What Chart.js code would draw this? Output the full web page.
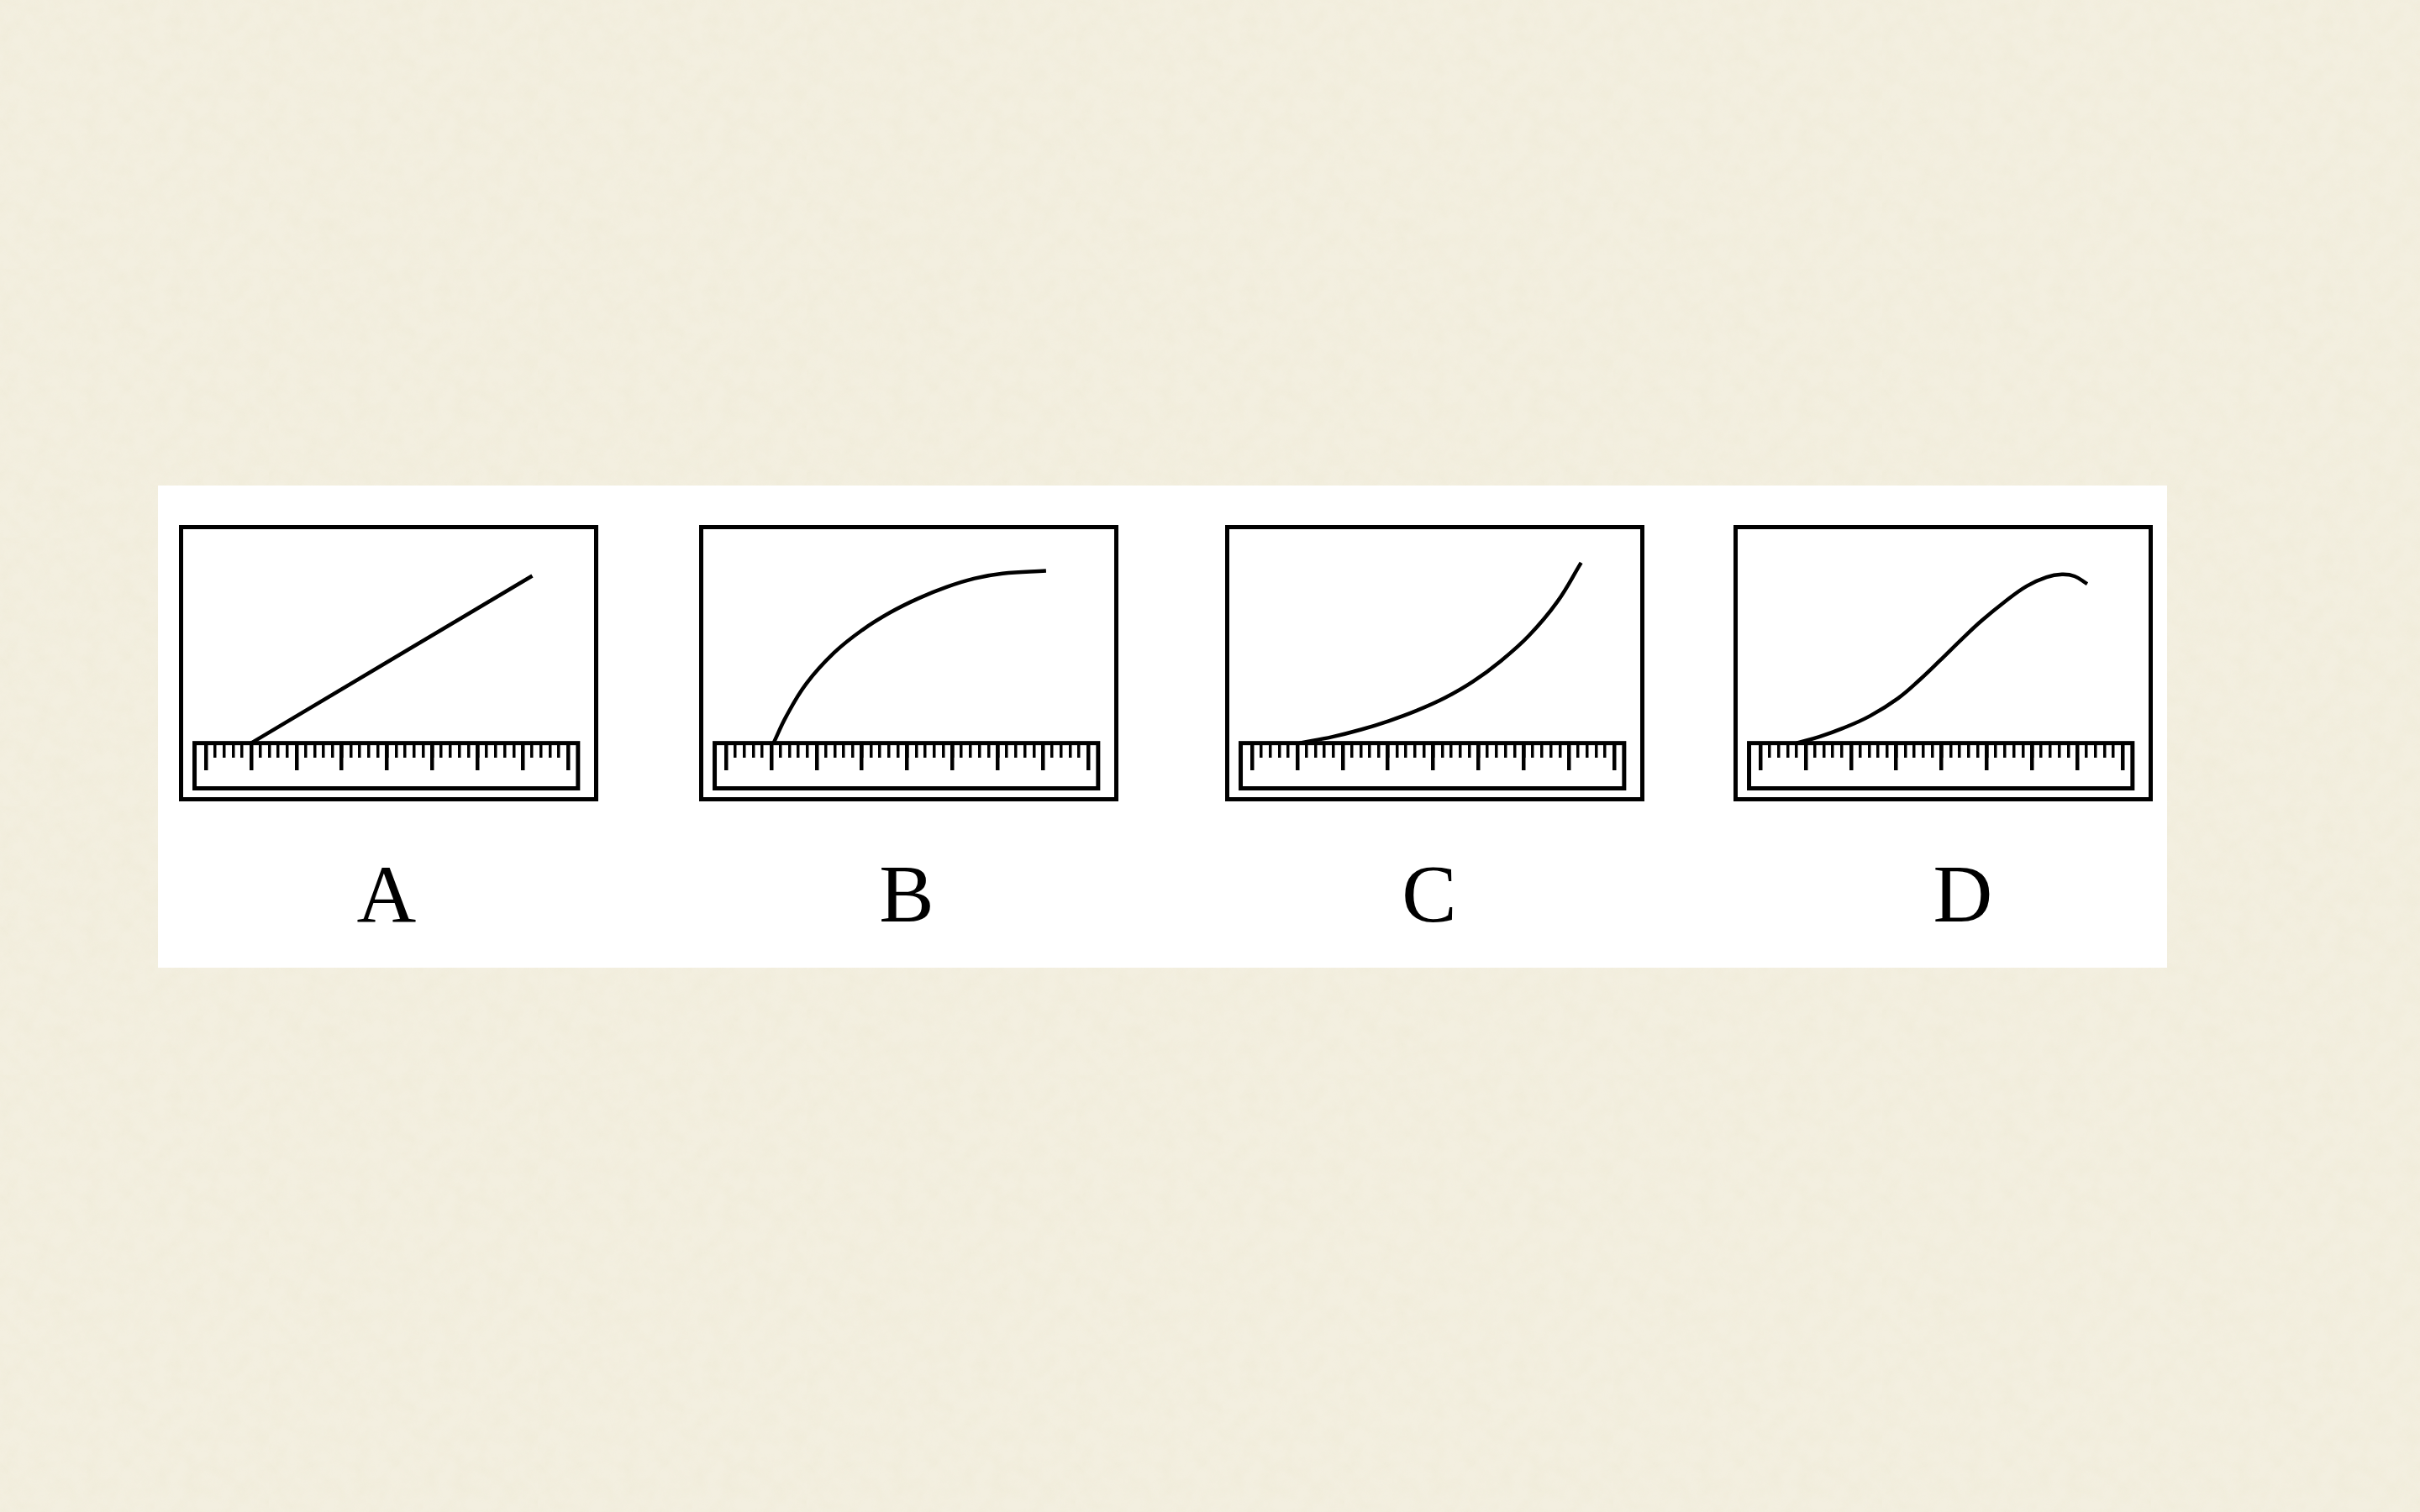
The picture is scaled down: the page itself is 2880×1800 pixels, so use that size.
<!DOCTYPE html>
<html>
<head>
<meta charset="utf-8">
<title>Ruler traces A-D</title>
<script src="https://cdn.jsdelivr.net/npm/chart.js@4.4.1/dist/chart.umd.min.js"></script>
<style>
  html, body { margin: 0; padding: 0; }
  body {
    width: 2880px;
    height: 1800px;
    position: relative;
    overflow: hidden;
    background-color: #f3efe0;
    background-image: url("data:image/svg+xml,%3Csvg xmlns='http://www.w3.org/2000/svg' width='320' height='320'%3E%3Cfilter id='n'%3E%3CfeTurbulence type='fractalNoise' baseFrequency='0.05' numOctaves='4' seed='7'/%3E%3CfeColorMatrix values='0 0 0 0 0.82 0 0 0 0 0.78 0 0 0 0 0.6 0.45 0 0 0 -0.14'/%3E%3C/filter%3E%3Crect width='320' height='320' filter='url(%23n)'/%3E%3C/svg%3E");
  }
  .band {
    position: absolute;
    left: 188px;
    top: 578px;
    width: 2391px;
    height: 574px;
    background: #fff;
  }
  .panel {
    position: absolute;
    top: 625px;
    width: 499px;
    height: 329px;
    box-sizing: border-box;
    border: 5px solid #000;
    background: #fff;
  }
  .panel canvas { display: block; }
  .label {
    position: absolute;
    top: 1015px;
    width: 200px;
    text-align: center;
    font: 98px/1 "Liberation Serif", "Times New Roman", serif;
    color: #000;
  }
</style>
</head>
<body>
<div class="band"></div>

<div class="panel" style="left:213px"><canvas id="panelA" width="489" height="319"></canvas></div>
<div class="panel" style="left:832px"><canvas id="panelB" width="489" height="319"></canvas></div>
<div class="panel" style="left:1458px"><canvas id="panelC" width="489" height="319"></canvas></div>
<div class="panel" style="left:2063px"><canvas id="panelD" width="489" height="319"></canvas></div>

<div class="label" id="labelA" style="left:360px"></div>
<div class="label" id="labelB" style="left:979px"></div>
<div class="label" id="labelC" style="left:1601px"></div>
<div class="label" id="labelD" style="left:2236px"></div>

<script>
// Ruler units: one big division = 10, one small division = 2
const rulerMin = 0;
const rulerMax = 80;
const rulerMajorStep = 10;
const rulerMinorStep = 2;
const rulerEdgeX = [-2.5, 82.2];   // ruler ends, in ruler units
const rulerDepth = -10;            // ruler bottom edge, top edge sits at 0
const plotTop = 47.3;

const panelLabels = ['A', 'B', 'C', 'D'];

// Traces (x along the ruler, y height above it)
const traceAX = [10, 72.1];
const traceAY = [0, 37.0];

const traceBX = [10.5, 13.3, 17.7, 23.9, 30.1, 36.3, 42.5, 48.7, 54.9, 61.1, 70.7];
const traceBY = [0, 5.9, 13.1, 20.0, 25.0, 28.9, 32.0, 34.5, 36.4, 37.5, 38.1];

const traceCX = [10.5, 17.8, 24.1, 30.2, 36.4, 42.6, 48.8, 55.0, 61.2, 67.4, 72.7];
const traceCY = [0, 1.4, 3.0, 4.9, 7.2, 10.0, 13.6, 18.2, 23.8, 31.2, 39.9];

const traceDX = [8.0, 13.0, 18.0, 24.2, 30.4, 35.3, 39.6, 44.6, 48.9, 53.9, 58.8, 63.2, 66.6, 69.4, 72.2];
const traceDY = [0, 1.4, 3.2, 6.0, 9.9, 14.1, 18.2, 23.1, 27.1, 31.2, 34.7, 36.7, 37.3, 36.9, 35.2];

/**
 * Outline of the ruler, placed with the chart's own scales
 */
const rulerFrame = {
  id: 'rulerFrame',
  beforeDatasetsDraw(chart) {
    const { ctx, scales: { x, y } } = chart;
    const left = x.getPixelForValue(rulerEdgeX[0]);
    const right = x.getPixelForValue(rulerEdgeX[1]);
    const top = y.getPixelForValue(0);
    const bottom = y.getPixelForValue(rulerDepth);
    ctx.save();
    ctx.lineWidth = 5;
    ctx.strokeStyle = '#000';
    ctx.strokeRect(left, top, right - left, bottom - top);
    ctx.restore();
  }
};

// Tick marks hang down from the ruler's top edge (y = 0)
function rulerAxis(step, length, width) {
  return {
    type: 'linear',
    axis: 'x',
    min: rulerMin,
    max: rulerMax,
    position: { y: 0 },
    ticks: { display: false, stepSize: step, autoSkip: false },
    grid: {
      drawOnChartArea: false,
      drawTicks: true,
      tickLength: length,
      tickWidth: width,
      tickColor: '#000',
      lineWidth: width,
      color: '#000'
    },
    border: { display: false }
  };
}

function buildPanel(canvasId, xs, ys) {
  const ctx = document.getElementById(canvasId).getContext('2d');
  return new Chart(ctx, {
    type: 'line',
    data: {
      datasets: [{
        data: xs.map((x, i) => ({ x, y: ys[i] })),
        borderColor: '#000',
        borderWidth: 4.5,
        pointRadius: 0,
        fill: false,
        tension: 0.4
      }]
    },
    options: {
      responsive: false,
      animation: false,
      devicePixelRatio: 1,
      layout: {
        autoPadding: false,
        padding: { left: 27, right: 31, top: 0, bottom: 10.5 }
      },
      plugins: {
        legend: { display: false },
        tooltip: { enabled: false }
      },
      scales: {
        x: rulerAxis(rulerMajorStep, 32, 4.5),
        xMinor: rulerAxis(rulerMinorStep, 17, 3.5),
        y: { type: 'linear', display: false, min: rulerDepth, max: plotTop }
      }
    },
    plugins: [rulerFrame]
  });
}

buildPanel('panelA', traceAX, traceAY);
buildPanel('panelB', traceBX, traceBY);
buildPanel('panelC', traceCX, traceCY);
buildPanel('panelD', traceDX, traceDY);

['labelA', 'labelB', 'labelC', 'labelD'].forEach((id, i) => {
  document.getElementById(id).textContent = panelLabels[i];
});
</script>
</body>
</html>
